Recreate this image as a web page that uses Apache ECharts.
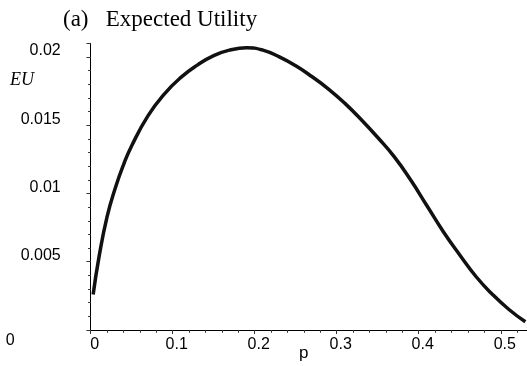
<!DOCTYPE html>
<html>
<head>
<meta charset="utf-8">
<script src="https://cdn.jsdelivr.net/npm/echarts@6/dist/echarts.min.js"></script>
<style>
  html, body { margin: 0; padding: 0; background: #fff; }
  #chart { width: 527px; height: 366px; }
</style>
</head>
<body>
<div id="chart"></div>
<script>
// values
const pValues = [0.003, 0.01, 0.02, 0.03, 0.04, 0.05, 0.07, 0.09, 0.11, 0.13, 0.15, 0.17, 0.19, 0.21, 0.23,
  0.25, 0.27, 0.29, 0.31, 0.33, 0.35, 0.37, 0.39, 0.41, 0.43, 0.45, 0.47, 0.49, 0.51, 0.53];
const euValues = [0.0026, 0.0053, 0.0083, 0.0104, 0.0121, 0.0135, 0.0157, 0.0173, 0.0185, 0.0194, 0.0201, 0.02051, 0.02067, 0.0205, 0.0200,
  0.01935, 0.01855, 0.01765, 0.0166, 0.0154, 0.0141, 0.0127, 0.0110, 0.0091, 0.0072, 0.0055, 0.0039, 0.0026, 0.0015, 0.0006];
const xTickLabels = ['0', '0.1', '0.2', '0.3', '0.4', '0.5'];
const yTickLabels = ['0', '0.005', '0.01', '0.015', '0.02'];

const chart = echarts.init(document.getElementById('chart'));
const sans = '"Liberation Sans", Arial, sans-serif';
const serif = '"Liberation Serif", "Times New Roman", serif';

function xLabel(v) {
  const i = Math.round(v / 0.1);
  return Math.abs(v - i * 0.1) < 1e-9 && xTickLabels[i] !== undefined ? xTickLabels[i] : '';
}
function yLabel(v) {
  const i = Math.round(v / 0.005);
  if (Math.abs(v - i * 0.005) > 1e-9 || yTickLabels[i] === undefined) return '';
  return i === 0 ? '{z|' + yTickLabels[i] + '}' : '{n|' + yTickLabels[i] + '}';
}

const baseX = {
  type: 'value', min: 0, max: 0.532, interval: 0.1,
  splitLine: { show: false }
};
const baseY = {
  type: 'value', min: 0, max: 0.021, interval: 0.005,
  splitLine: { show: false }
};

const option = {
  animation: false,
  title: {
    text: '(a)   Expected Utility',
    left: 58, top: 3,
    textStyle: { fontFamily: serif, fontSize: 23, fontWeight: 'normal', color: '#000' }
  },
  grid: { left: 90.7, right: 0, top: 43.3, bottom: 36 },
  xAxis: [
    Object.assign({}, baseX, {
      axisLine: { lineStyle: { color: '#000', width: 1 } },
      axisTick: { length: 4, lineStyle: { color: '#333' } },
      minorTick: { show: true, splitNumber: 5, length: 2.5, lineStyle: { color: '#333' } },
      axisLabel: {
        formatter: xLabel, margin: 7, fontFamily: sans, fontSize: 16, color: '#000',
        showMaxLabel: false, padding: [0, 0, 0, 8]
      }
    }),
    Object.assign({}, baseX, {
      axisLine: { show: false },
      axisTick: { inside: true, length: 4, lineStyle: { color: '#333' } },
      minorTick: { show: true, splitNumber: 5, length: 2.5, lineStyle: { color: '#333' } },
      axisLabel: { show: false }
    })
  ],
  yAxis: [
    Object.assign({}, baseY, {
      axisLine: { lineStyle: { color: '#000', width: 1 } },
      axisTick: { length: 4, lineStyle: { color: '#333' } },
      minorTick: { show: true, splitNumber: 5, length: 2.5, lineStyle: { color: '#333' } },
      axisLabel: {
        formatter: yLabel, margin: 30, showMaxLabel: false,
        rich: {
          n: { fontFamily: sans, fontSize: 16, color: '#000', padding: [0, 0, 12, 0] },
          z: { fontFamily: sans, fontSize: 16, color: '#000', padding: [22, 46, 0, 0] }
        }
      }
    }),
    Object.assign({}, baseY, {
      axisLine: { show: false },
      axisTick: { inside: true, length: 4, lineStyle: { color: '#333' } },
      minorTick: { show: true, splitNumber: 5, length: 2.5, lineStyle: { color: '#333' } },
      axisLabel: { show: false }
    })
  ],
  graphic: [
    {
      type: 'text', left: 10, top: 71,
      style: { text: 'EU', font: 'italic 18px ' + serif, fill: '#000' }
    },
    {
      type: 'text', left: 299, top: 345,
      style: { text: 'p', font: '17px ' + sans, fill: '#000' }
    }
  ],
  series: [
    {
      type: 'line',
      data: pValues.map((p, i) => [p, euValues[i]]),
      smooth: 0.5,
      showSymbol: false,
      clip: false,
      lineStyle: { color: '#111', width: 3.5 }
    }
  ]
};

chart.setOption(option);
</script>
</body>
</html>
